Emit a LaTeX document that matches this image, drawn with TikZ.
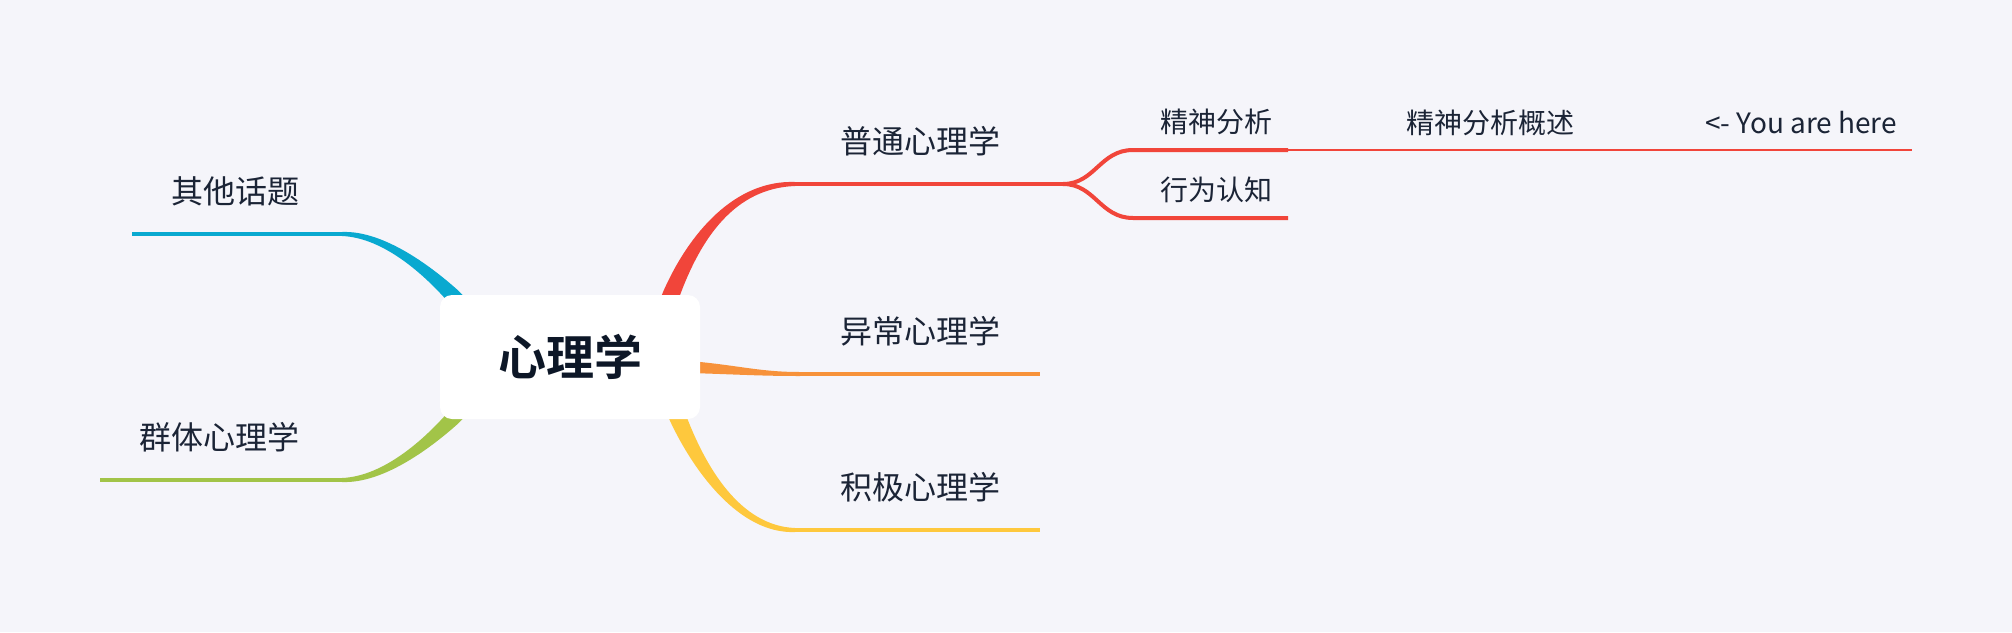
\documentclass[tikz,border=0pt]{standalone}
\usepackage{fontspec}
\setmainfont{Noto Sans CJK SC}[BoldFont={Noto Sans CJK SC Bold}]
\definecolor{bg}{HTML}{F5F5FA}
\definecolor{cred}{HTML}{F1453A}
\definecolor{corange}{HTML}{F7923A}
\definecolor{cyellow}{HTML}{FEC83D}
\definecolor{cblue}{HTML}{09A9D0}
\definecolor{cgreen}{HTML}{A2C448}
\definecolor{txt}{HTML}{1B2436}
\definecolor{ctxt}{HTML}{0D1727}
\begin{document}
\begin{tikzpicture}[x=1pt,y=-1pt,line cap=butt,
  lbl/.style={font=\fontsize{32}{38}\selectfont,text=txt,inner sep=0pt},
  sublbl/.style={font=\fontsize{28}{34}\selectfont,text=txt,inner sep=0pt},
  brline/.style={line width=4pt},
  thinline/.style={line width=2pt}]
\fill[bg] (0,0) rectangle (2012,632);
\useasboundingbox (0,0) rectangle (2012,632);

% named branch points
\coordinate (rA) at (795,184);
\coordinate (rB) at (1063,184);
\coordinate (sA1) at (1133,150);
\coordinate (sA2) at (1288,150);
\coordinate (tEnd) at (1912,150);
\coordinate (sB1) at (1133,218);
\coordinate (sB2) at (1288,218);
\coordinate (oA) at (800,374);
\coordinate (oB) at (1040,374);
\coordinate (yA) at (795,530);
\coordinate (yB) at (1040,530);
\coordinate (bA) at (342,234);
\coordinate (bB) at (132,234);
\coordinate (gA) at (342,480);
\coordinate (gB) at (100,480);

% tapered main branches
\fill[cred] (659.4,301.1) -- (663.1,291.85) .. controls (689.1,232.65) and (735,179.8) .. (795,182)
  -- (795,186) .. controls (735,188.2) and (700.9,237.35) .. (678.9,298.15) -- (675.2,307.4) -- cycle;
\fill[corange] (690,361) .. controls (740,365.5) and (760,372) .. (800,372)
  -- (800,376) .. controls (760,376) and (740,374.5) .. (690,373) -- cycle;
\fill[cyellow] (666.3,412.1) -- (670.2,421.3) .. controls (694.2,472.5) and (740,534.2) .. (795,532)
  -- (795,528) .. controls (740,525.8) and (705.8,467.5) .. (685.8,414.7) -- (681.9,405.5) -- cycle;
\fill[cblue] (464.4,296.8) -- (457.3,289.7) .. controls (434.0,269.0) and (385,230.2) .. (342,232)
  -- (342,236) .. controls (385,237.8) and (426.0,277.0) .. (446.7,300.3) -- (453.8,307.4) -- cycle;
\fill[cgreen] (464.4,417.2) -- (457.3,424.3) .. controls (434.0,445.0) and (385,483.8) .. (342,482)
  -- (342,478) .. controls (385,476.2) and (426.0,437.0) .. (446.7,413.7) -- (453.8,406.6) -- cycle;

% straight parts
\draw[brline,cred] (rA) -- (rB);
\draw[brline,cred] (rB) .. controls (1095,184) and (1100,150) .. (sA1) -- (sA2);
\draw[brline,cred] (rB) .. controls (1095,184) and (1100,218) .. (sB1) -- (sB2);
\draw[thinline,cred] (sA2) -- (tEnd);
\draw[brline,corange] (oA) -- (oB);
\draw[brline,cyellow] (yA) -- (yB);
\draw[brline,cblue] (bA) -- (bB);
\draw[brline,cgreen] (gA) -- (gB);

% root
\node[fill=white,rounded corners=12pt,minimum width=260pt,minimum height=124pt,inner sep=0pt,
  font=\bfseries\fontsize{48}{56}\selectfont,text=ctxt] (root) at (570,357) {心理学};

% labels
\node[lbl] (n1) at (920,141) {普通心理学};
\node[lbl] (n2) at (920,331) {异常心理学};
\node[lbl] (n3) at (920,487) {积极心理学};
\node[lbl] (n4) at (235,191) {其他话题};
\node[lbl] (n5) at (219,437) {群体心理学};
\node[sublbl] (m1) at (1216,122) {精神分析};
\node[sublbl] (m2) at (1216,190) {行为认知};
\node[sublbl] (m3) at (1490,123) {精神分析概述};
\node[sublbl,anchor=base] (m4) at (1801,133) {<- You are here};
\end{tikzpicture}
\end{document}
